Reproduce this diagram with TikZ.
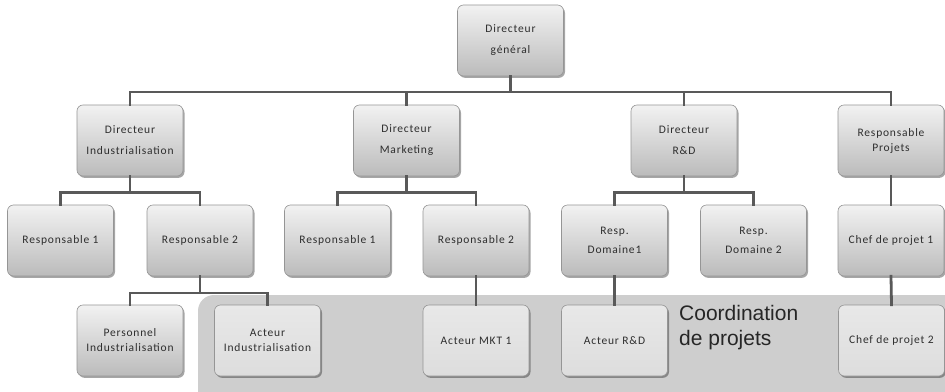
\documentclass[tikz,border=0pt]{standalone}
\usepackage{fontspec}
\setmainfont{Carlito}
\newfontfamily\boxfont{Carlito}[LetterSpace=7]
\newfontfamily\bigfont{Liberation Sans}
\usetikzlibrary{shadows}
\definecolor{linec}{HTML}{595959}
\definecolor{boxtop}{HTML}{F2F2F2}
\definecolor{boxbot}{HTML}{BBBBBB}
\definecolor{boxdraw}{HTML}{959595}
\definecolor{flatbox}{HTML}{E8E8E8}
\definecolor{flatbot}{HTML}{DDDDDD}
\definecolor{zone}{HTML}{CECECE}
\definecolor{txt}{HTML}{2E2E2E}
\tikzset{
  orgbox/.style={rectangle, rounded corners=6pt, minimum width=106pt, minimum height=71pt,
    inner sep=2pt, draw=boxdraw, line width=0.6pt, top color=boxtop, bottom color=boxbot,
    align=center, text=txt, font=\boxfont\fontsize{11.5}{13.5}\selectfont,
    drop shadow={shadow xshift=1.5pt, shadow yshift=-1.8pt, opacity=0.35, fill=black}},
  flatorg/.style={orgbox, top color=flatbox, bottom color=flatbot},
  conn/.style={draw=linec, line width=2.8pt, line cap=rect},
}
\begin{document}
\begin{tikzpicture}[x=1pt,y=-1pt]
\useasboundingbox (0,0) rectangle (945,391);
\fill[white] (0,0) rectangle (945,391);
% coordination zone
\fill[zone, rounded corners=16pt] (198,295) rectangle (960,410);
\node[anchor=north west, inner sep=0pt, align=left, text=black!85,
  font=\bigfont\fontsize{21}{24.5}\selectfont] (coord) at (679,305.5) {Coordination\\de projets};

% level 1
\node[orgbox] (dg) at (510.5,40.5) {Directeur\\[7.5pt]général};
% level 2
\node[orgbox] (di) at (130,140.5) {Directeur\\[7.5pt]Industrialisation};
\node[orgbox] (dm) at (406.5,140.5) {Directeur\\[7.5pt]Marketing};
\node[orgbox] (dr) at (684,140.5) {Directeur\\[7.5pt]R\&D};
\node[orgbox] (rp) at (891,140.5) {Responsable\\[1.5pt]Projets};
% level 3
\node[orgbox] (ir1) at (60.5,240.5) {Responsable 1};
\node[orgbox] (ir2) at (200,240.5) {Responsable 2};
\node[orgbox] (mr1) at (337.5,240.5) {Responsable 1};
\node[orgbox] (mr2) at (476,240.5) {Responsable 2};
\node[orgbox] (rd1) at (614.5,240.5) {Resp.\\[5.5pt]Domaine1};
\node[orgbox] (rd2) at (753.5,240.5) {Resp.\\[5.5pt]Domaine 2};
\node[orgbox] (cp1) at (891,240.5) {Chef de projet 1};
% level 4
\node[orgbox] (pi) at (130,340.5) {Personnel\\[1.5pt]Industrialisation};
\node[flatorg] (ai) at (267.5,340.5) {Acteur\\[1.5pt]Industrialisation};
\node[flatorg] (amkt) at (476,340.5) {Acteur MKT 1};
\node[flatorg] (ard) at (614.5,340.5) {Acteur R\&D};
\node[flatorg] (cp2) at (891.5,340.5) {Chef de projet 2};

% buses
\coordinate (b1) at (0,92);
\coordinate (b2) at (0,192.5);
\coordinate (b3) at (0,293);

\foreach \c in {di,dm,dr,rp}
  \draw[conn] (dg.south) -- (dg.south |- b1) -| (\c.north);
\foreach \c in {ir1,ir2}
  \draw[conn] (di.south) -- (di.south |- b2) -| (\c.north);
\foreach \c in {mr1,mr2}
  \draw[conn] (dm.south) -- (dm.south |- b2) -| (\c.north);
\foreach \c in {rd1,rd2}
  \draw[conn] (dr.south) -- (dr.south |- b2) -| (\c.north);
\draw[conn] (rp.south) -- (cp1.north);
\foreach \c in {pi,ai}
  \draw[conn] (ir2.south) -- (ir2.south |- b3) -| (\c.north);
\draw[conn] (mr2.south) -- (amkt.north);
\draw[conn] (rd1.south) -- (ard.north);
\draw[conn] (cp1.south) -- (cp2.north);
\end{tikzpicture}
\end{document}
